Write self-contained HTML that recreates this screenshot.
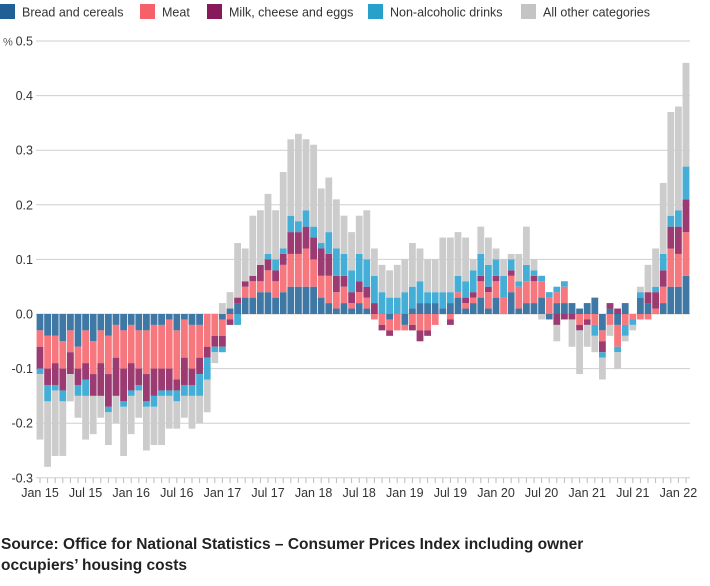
<!DOCTYPE html>
<html><head><meta charset="utf-8"><style>
body{margin:0;background:#fff;width:710px;height:586px;overflow:hidden;font-family:"Liberation Sans",sans-serif;}
svg{position:absolute;left:0;top:0}
.src{position:absolute;left:1px;top:534px;font-weight:bold;font-size:15.5px;line-height:21px;color:#222;width:625px}
</style></head><body>
<svg id="chart" width="710" height="586" xmlns="http://www.w3.org/2000/svg"></svg>
<div class="src">Source: Office for National Statistics – Consumer Prices Index including owner occupiers’ housing costs</div>
<script>
const series = ["Bread and cereals","Meat","Milk, cheese and eggs","Non-alcoholic drinks","All other categories"];
const bread=[-.03,-.04,-.04,-.05,-.03,-.06,-.03,-.05,-.03,-.04,-.02,-.03,-.02,-.03,-.03,-.02,-.02,-.01,-.03,-.01,-.02,-.02,0,0,-.01,.01,.02,.03,.03,.04,.04,.03,.04,.05,.05,.05,.05,.03,.02,.01,.02,.01,.02,.01,0,0,-.01,0,-.02,.01,.02,.02,.02,.01,.02,.03,.01,.02,.03,.01,.03,0,.04,.01,.02,.02,.03,-.01,.02,.02,.02,.01,.02,.03,-.03,.01,-.02,.02,0,.03,.02,0,.02,.05,.05,.07];
const meat=[-.03,-.06,-.05,-.05,-.04,-.04,-.06,-.06,-.06,-.07,-.06,-.07,-.07,-.07,-.08,-.08,-.08,-.09,-.09,-.07,-.08,-.06,-.06,-.04,-.03,-.01,0,.02,.03,.02,.04,.03,.05,.06,.06,.07,.05,.04,.05,.03,.03,.01,.02,.02,-.01,-.02,-.02,-.03,-.01,-.02,-.03,-.03,-.02,0,-.01,.01,.01,.01,.03,.03,.03,.03,.03,.04,.04,.04,.03,.03,.02,.03,0,-.02,-.01,-.02,-.02,-.02,-.04,-.02,-.01,-.01,-.01,.01,.03,.07,.06,.08];
const milk=[-.04,-.03,-.04,-.04,-.04,-.03,-.03,-.04,-.06,-.06,-.07,-.06,-.05,-.03,-.05,-.05,-.04,-.04,-.02,-.05,-.03,-.03,-.02,-.02,-.02,-.01,.01,.01,.01,.03,.02,.02,.02,.04,.04,.04,.04,.05,.04,.03,.02,.02,.02,.02,.02,-.01,-.01,0,0,-.01,-.02,-.01,0,0,-.01,0,.01,.01,.01,.01,.01,0,.01,0,0,.01,0,0,-.02,-.01,-.01,-.01,-.01,0,-.02,.01,.01,0,0,0,.02,.03,.03,.04,.05,.06];
const drinks=[-.01,-.03,-.01,-.02,0,-.02,-.03,0,0,-.01,0,-.01,-.01,-.01,-.01,-.02,-.01,-.01,-.02,-.02,-.02,-.04,-.04,-.01,-.01,0,-.02,0,0,0,.01,.02,.01,.03,.02,.03,.02,.01,.04,.05,.04,.04,.05,.05,.05,.04,.03,.03,.04,.04,.04,.02,.02,.03,.02,.03,.03,.04,.04,.04,.03,.04,.02,.01,.03,.01,.01,.01,.01,.01,0,0,0,-.02,-.01,0,-.01,-.02,-.01,.01,0,.01,.03,.02,.03,.06];
const other=[-.12,-.12,-.12,-.10,-.05,-.04,-.08,-.07,-.04,-.06,-.05,-.09,-.07,-.05,-.08,-.07,-.09,-.06,-.05,-.04,-.06,-.05,-.06,-.02,.02,.03,.10,.06,.11,.10,.11,.09,.14,.14,.16,.13,.15,.10,.10,.09,.07,.07,.07,.09,.05,.05,.05,.06,.06,.08,.06,.06,.06,.10,.10,.08,.08,.02,.05,.05,.02,.03,.01,.05,.07,.02,-.01,0,-.03,0,-.05,-.08,-.04,-.03,-.04,-.02,-.03,-.01,-.01,.01,.05,.07,.13,.19,.19,.19];
const yTicks=[0.5,0.4,0.3,0.2,0.1,0.0,-0.1,-0.2,-0.3];
const yTickLabels=["0.5","0.4","0.3","0.2","0.1","0.0","-0.1","-0.2","-0.3"];
const xLabels=["Jan 15","Jul 15","Jan 16","Jul 16","Jan 17","Jul 17","Jan 18","Jul 18","Jan 19","Jul 19","Jan 20","Jul 20","Jan 21","Jul 21","Jan 22"];

const NS="http://www.w3.org/2000/svg";
const svg=document.getElementById('chart');
const y0=314, pxPerUnit=546;
const yScale=v=>y0-v*pxPerUnit;
const x0=40, step=7.6;
const xScale=i=>x0+i*step;
const barColors=["#3f77a5","#f6777e","#9b3b71","#45aed6","#cccccc"];
const legColors=["#206095","#f66068","#871a5b","#27a0cc","#c4c4c4"];
const data=[bread,meat,milk,drinks,other];
function mk(tag,attrs){const e=document.createElementNS(NS,tag);for(const k in attrs)e.setAttribute(k,attrs[k]);svg.appendChild(e);return e;}

yTicks.forEach((t,i)=>{
  const yy=yScale(t);
  const ln=mk('line',{x1:36,x2:690,y1:yy,y2:yy,stroke:'#cfcfcf','stroke-width':1});
  
  
  const tx=mk('text',{x:33,y:yy+4.5,'text-anchor':'end','font-size':12.5,fill:'#333'});
  tx.textContent=yTickLabels[i];
  
  
});
const pct=mk('text',{x:3,y:yScale(0.5)+4.5,'font-size':11,fill:'#555'});
pct.textContent='%';



const n=bread.length;
for(let i=0;i<n;i++){
  let pos=0,neg=0;
  for(let s=0;s<5;s++){
    const v=data[s][i];
    if(!v)continue;
    let top,bot;
    if(v>0){bot=pos;pos+=v;top=pos;}else{top=neg;neg+=v;bot=neg;}
    const r=mk('rect',{x:xScale(i)-3.4,y:yScale(top),width:6.8,height:yScale(bot)-yScale(top),fill:barColors[s]});
    
    
  }
}
for(let i=0;i<n;i++){
  const t=mk('line',{x1:xScale(i),x2:xScale(i),y1:478,y2:483,stroke:'#bbb','stroke-width':1});
  
  
}
xLabels.forEach((l,k)=>{
  const t=mk('text',{x:xScale(k*6),y:497,'text-anchor':'middle','font-size':12.5,fill:'#333'});
  t.textContent=l;
  
  
});
const legX=[0,140,207,368,521];
series.forEach((s,k)=>{
  const r=mk('rect',{x:legX[k],y:4,width:15,height:15,fill:legColors[k]});
  
  
  const t=mk('text',{x:legX[k]+22,y:16.5,'font-size':12.5,fill:'#333'});
  t.textContent=s;
  
  
});
</script>
</body></html>
